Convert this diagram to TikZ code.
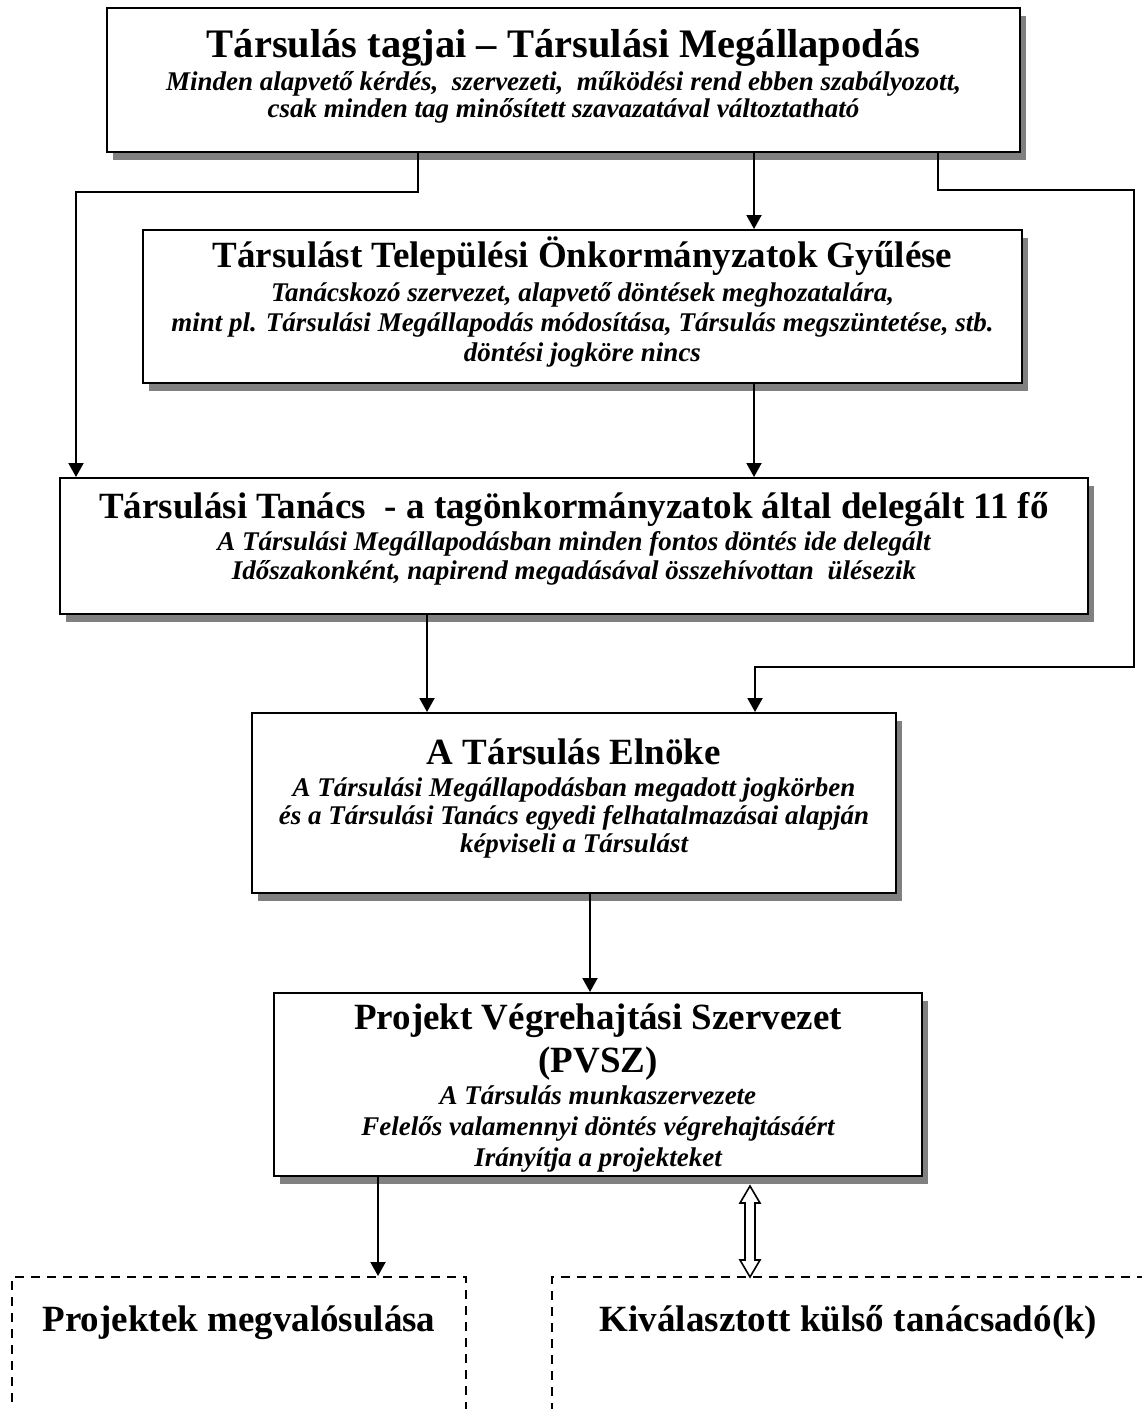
\documentclass[tikz,border=0pt]{standalone}
\usepackage{fontspec}
\setmainfont{Liberation Serif}
\usetikzlibrary{positioning,shadows,arrows.meta}

\tikzset{
  box/.style={rectangle, draw, line width=2pt, fill=white, inner sep=0pt,
    drop shadow={shadow xshift=6pt, shadow yshift=-8pt, fill=black!50, opacity=1}},
  dbox/.style={rectangle, draw, line width=2pt, dash pattern=on 9pt off 7pt, inner sep=0pt},
  ttl/.style={font=\fontsize{37}{43}\selectfont\bfseries, inner sep=0pt, align=center, anchor=base},
  txt/.style={font=\fontsize{27}{#1}\selectfont\bfseries\itshape, inner sep=0pt, align=center, anchor=base},
  txt/.default=29.5,
  conn/.style={line width=2pt, -{Triangle[length=14pt,width=15pt]}},
  hollow/.style={line width=1.6pt, fill=white}
}

\begin{document}
\begin{tikzpicture}[x=1pt, y=-1pt]
\useasboundingbox (0,0) rectangle (1142,1409);
\clip (0,0) rectangle (1142,1409);

% dobozok
\node[box, minimum width=913pt, minimum height=144pt] (tagok) at (563.5,80) {};
\node[box, minimum width=879pt, minimum height=153pt] (gyules) at (582.5,306.5) {};
\node[box, minimum width=1028pt, minimum height=136pt] (tanacs) at (574,546) {};
\node[box, minimum width=644pt, minimum height=180pt] (elnok) at (574,803) {};
\node[box, minimum width=648pt, minimum height=183pt] (pvsz) at (598,1084.5) {};
\node[dbox, minimum width=454pt, minimum height=240pt] (megval) at (239,1397) {};
\node[dbox, minimum width=593pt, minimum height=240pt] (tanacsado) at (848.5,1397) {};

% szovegek (anchor=base: az utolso sor alapvonala)
\node[ttl, font=\fontsize{40.5}{46}\selectfont\bfseries, below=50pt of tagok.north, anchor=base] (tagokcim) {Társulás tagjai – Társulási Megállapodás};
\node[txt=27, below=110pt of tagok.north, anchor=base] (tagoktxt) {Minden alapvető kérdés,\ \ szervezeti,\ \ működési rend ebben szabályozott,\\csak minden tag minősített szavazatával változtatható};

\node[ttl, below=38pt of gyules.north, anchor=base] (gyulescim) {Társulást Települési Önkormányzatok Gyűlése};
\node[txt=30, below=132pt of gyules.north, anchor=base] (gyulestxt) {Tanácskozó szervezet, alapvető döntések meghozatalára,\\mint pl. Társulási Megállapodás módosítása, Társulás megszüntetése, stb.\\döntési jogköre nincs};

\node[ttl, below=41pt of tanacs.north, anchor=base] (tanacscim) {Társulási Tanács\ \ - a tagönkormányzatok által delegált 11 fő};
\node[txt=29, below=102pt of tanacs.north, anchor=base] (tanacstxt) {A Társulási Megállapodásban minden fontos döntés ide delegált\\Időszakonként, napirend megadásával összehívottan\ \ ülésezik};

\node[ttl, below=52pt of elnok.north, anchor=base] (elnokcim) {A Társulás Elnöke};
\node[txt=28, below=140pt of elnok.north, anchor=base] (elnoktxt) {A Társulási Megállapodásban megadott jogkörben\\és a Társulási Tanács egyedi felhatalmazásai alapján\\képviseli a Társulást};

\node[ttl, below=80pt of pvsz.north, anchor=base] (pvszcim) {Projekt Végrehajtási Szervezet\\(PVSZ)};
\node[txt=31, below=174pt of pvsz.north, anchor=base] (pvsztxt) {A Társulás munkaszervezete\\Felelős valamennyi döntés végrehajtásáért\\Irányítja a projekteket};

\node[ttl, below=55pt of megval.north, anchor=base] (megvalcim) {Projektek megvalósulása};
\node[ttl, below=55pt of tanacsado.north, anchor=base] (tanacsadocim) {Kiválasztott külső tanácsadó(k)};

% nyilak
\draw[conn] (418,0 |- tagok.south) -- (418,192) -- (76,192) -- (76,0 |- tanacs.north);
\draw[conn] (754,0 |- tagok.south) -- (754,0 |- gyules.north);
\draw[conn] (938,0 |- tagok.south) -- (938,190) -- (1134,190) -- (1134,667) -- (755,667) -- (755,0 |- elnok.north);
\draw[conn] (754,0 |- gyules.south) -- (754,0 |- tanacs.north);
\draw[conn] (427,0 |- tanacs.south) -- (427,0 |- elnok.north);
\draw[conn] (590,0 |- elnok.south) -- (590,0 |- pvsz.north);
\draw[conn] (378,0 |- pvsz.south) -- (378,0 |- megval.north);

\coordinate (kettos) at (750,1186);
\draw[hollow] (kettos) -- ++(10,17) -- ++(-5,0) -- ++(0,57) -- ++(5,0) -- ++(-10,17)
  -- ++(-10,-17) -- ++(5,0) -- ++(0,-57) -- ++(-5,0) -- cycle;
\end{tikzpicture}
\end{document}
